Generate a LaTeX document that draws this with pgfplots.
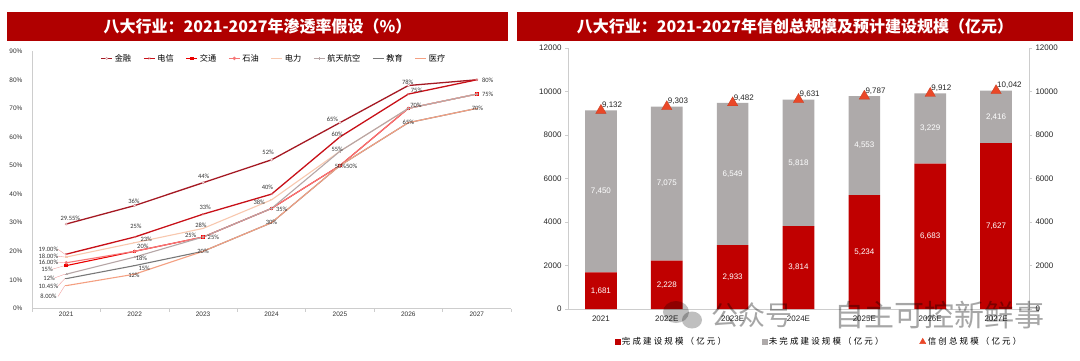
\documentclass[border=0pt]{standalone}
\usepackage{fontspec}
\usepackage{pgfplots}
\pgfplotsset{compat=1.18}
\setmainfont{Liberation Sans}
\newfontfamily\cjk{Noto Sans CJK SC}
\newfontfamily\cjkw[LetterSpace=25]{Noto Sans CJK SC}
\newfontfamily\carl{Carlito}
\definecolor{titlered}{RGB}{176,0,0}
\definecolor{jinrong}{RGB}{165,25,35}
\definecolor{dianxin}{RGB}{200,16,24}
\definecolor{jiaotong}{RGB}{235,0,0}
\definecolor{shiyou}{RGB}{246,118,118}
\definecolor{dianli}{RGB}{248,200,175}
\definecolor{hangtian}{RGB}{182,166,166}
\definecolor{jiaoyu}{RGB}{120,120,120}
\definecolor{yiliao}{RGB}{244,160,130}
\definecolor{barred}{RGB}{192,0,0}
\definecolor{bargray}{RGB}{174,170,170}
\definecolor{tri}{RGB}{234,72,40}
\definecolor{axgray}{RGB}{205,205,205}
\definecolor{lead}{RGB}{242,160,160}
\pgfplotsset{/pgf/number format/assume math mode=true}
\begin{document}
\begin{tikzpicture}
\useasboundingbox (0pt,0pt) rectangle (1080pt,360pt);
\fill[white] (0pt,0pt) rectangle (1080pt,360pt);
% title bars
\fill[titlered] (7pt,319.3pt) rectangle (508pt,348.3pt);
\node[text=white, font=\cjk\bfseries\fontsize{16}{18}\selectfont] at (257.5pt,333.8pt) {八大行业：2021-2027年渗透率假设（\%）};
\fill[titlered] (517pt,319.3pt) rectangle (1073pt,348.3pt);
\node[text=white, font=\cjk\bfseries\fontsize{16}{18}\selectfont] at (795pt,333.8pt) {八大行业：2021-2027年信创总规模及预计建设规模（亿元）};

% ---------------- left chart ----------------
\begin{axis}[at={(32pt,51.5pt)}, anchor=south west, scale only axis,
  width=479pt, height=257.3pt,
  xmin=-0.5, xmax=6.5, ymin=0, ymax=90,
  axis lines*=left, axis line style={draw=axgray, line width=0.8pt},
  xtick={-0.5,0.5,1.5,2.5,3.5,4.5,5.5,6.5}, xticklabels={},
  major tick length=3pt, tick align=outside,
  x tick style={draw=axgray, line width=0.6pt},
  extra x ticks={0,1,2,3,4,5,6},
  extra x tick labels={2021,2022,2023,2024,2025,2026,2027},
  extra x tick style={major tick length=0pt},
  ytick={0,10,...,90},
  yticklabels={0\%,10\%,20\%,30\%,40\%,50\%,60\%,70\%,80\%,90\%},
  y tick style={draw=none},
  yticklabel style={xshift=-3pt},
  tick label style={font=\fontsize{6.5}{7}\selectfont, text=black!80},
  clip=false,
  legend style={at={(0.505,0.972)}, anchor=center, draw=none, fill=none,
    legend columns=8, font=\cjk\fontsize{8.2}{9}\selectfont,
    /tikz/every even column/.append style={column sep=10pt},
    inner sep=0pt},
  legend image code/.code={\draw[mark repeat=2,mark phase=2,#1] plot coordinates {(0pt,0pt) (5.5pt,0pt) (11pt,0pt)};},
]
\addplot[jinrong, line width=1.3pt, mark=*, mark size=1.2pt, mark options={fill=white, draw=jinrong!50, line width=0.4pt}]
 coordinates {(0,29.55)(1,36)(2,44)(3,52)(4,65)(5,78)(6,80)};
\addplot[dianxin, line width=1.3pt, mark=x, mark size=1.3pt, mark options={line width=0.5pt, draw=dianxin!60}]
 coordinates {(0,19)(1,25)(2,33)(3,40)(4,60)(5,75)(6,80)};
\addplot[jiaotong, line width=1.1pt, mark=square*, mark size=1.2pt, mark options={fill=jiaotong}]
 coordinates {(0,15)(1,20)(2,25)(3,35)(4,50)(5,70)(6,75)};
\addplot[shiyou, line width=1.1pt, mark=*, mark size=1.1pt, mark options={fill=white, draw=shiyou}]
 coordinates {(0,16)(1,20)(2,25)(3,35)(4,50)(5,70)(6,75)};
\addplot[dianli, line width=1.1pt, mark=-, mark size=1.3pt]
 coordinates {(0,18)(1,23)(2,28)(3,38)(4,55)(5,70)(6,75)};
\addplot[hangtian, line width=1.1pt, mark=+, mark size=1.3pt, mark options={line width=0.5pt}]
 coordinates {(0,12)(1,18)(2,25)(3,35)(4,55)(5,70)(6,75)};
\addplot[jiaoyu, line width=1.1pt, mark=-, mark size=1.3pt]
 coordinates {(0,10.45)(1,15)(2,20)(3,30)(4,50)(5,65)(6,70)};
\addplot[yiliao, line width=1.1pt, mark=-, mark size=1.3pt]
 coordinates {(0,8)(1,12)(2,20)(3,30)(4,50)(5,65)(6,70)};
\legend{金融,电信,交通,石油,电力,航天航空,教育,医疗}
% leader lines at 2021
\addplot[lead, line width=0.4pt, forget plot] coordinates {(-0.12,20.7)(-0.02,19)};
\addplot[lead, line width=0.4pt, forget plot] coordinates {(-0.12,18.3)(-0.02,18)};
\addplot[lead, line width=0.4pt, forget plot] coordinates {(-0.12,16.1)(-0.02,16)};
\addplot[lead, line width=0.4pt, forget plot] coordinates {(-0.21,13.7)(-0.02,15)};
\addplot[lead, line width=0.4pt, forget plot] coordinates {(-0.17,10.7)(-0.02,12)};
\addplot[lead, line width=0.4pt, forget plot] coordinates {(-0.12,7.9)(-0.02,10.45)};
\addplot[lead, line width=0.4pt, forget plot] coordinates {(-0.12,4.2)(-0.02,8)};
% data labels
\addplot[only marks, mark=none, forget plot, nodes near coords, point meta=explicit symbolic,
  nodes near coords style={anchor=center, inner sep=0pt, font=\carl\fontsize{6.5}{7}\selectfont, text=black!80}]
 table[meta=l] {
x y l
0.06 31.6 29.55\%
-0.26 20.7 19.00\%
-0.26 18.3 18.00\%
-0.26 16.1 16.00\%
-0.28 13.7 15\%
-0.25 10.7 12\%
-0.26 7.9 10.45\%
-0.26 4.2 8.00\%
0.99 37.6 36\%
1.02 28.7 25\%
1.17 24.2 23\%
1.12 21.7 20\%
1.10 17.5 18\%
1.14 14.0 15\%
0.99 11.6 12\%
2.01 46.4 44\%
2.03 35.3 33\%
1.97 29.1 28\%
1.82 25.6 25\%
2.15 24.8 25\%
2.00 19.9 20\%
2.95 54.5 52\%
2.94 42.5 40\%
2.82 37.0 38\%
3.15 34.7 35\%
3.00 30.1 30\%
3.89 66.2 65\%
3.96 60.9 60\%
3.96 55.7 55\%
4.09 49.9 50\%50\%
4.99 79.2 78\%
5.12 76.3 75\%
5.11 71.1 70\%
5.00 65.0 65\%
6.16 79.9 80\%
6.16 74.9 75\%
6.01 69.9 70\%
};
\end{axis}

% ---------------- right chart ----------------
\begin{axis}[at={(568pt,51pt)}, anchor=south west, scale only axis,
  width=461pt, height=261pt,
  xmin=-0.5, xmax=6.5, ymin=0, ymax=12000,
  ybar stacked, bar width=31.7pt,
  axis x line*=bottom, axis y line*=left,
  axis line style={draw=axgray, line width=0.8pt},
  xtick={0,1,2,3,4,5,6},
  xticklabels={2021,2022E,2023E,2024E,2025E,2026E,2027E},
  x tick style={draw=none},
  ytick={0,2000,...,12000}, scaled y ticks=false,
  /pgf/number format/1000 sep={},
  y tick style={draw=axgray, line width=0.6pt}, major tick length=3pt, tick align=outside,
  tick label style={font=\fontsize{8}{9}\selectfont, text=black!85},
]
\addplot[fill=barred, draw=none] coordinates {(0,1681)(1,2228)(2,2933)(3,3814)(4,5234)(5,6683)(6,7627)};
\addplot[fill=bargray, draw=none] coordinates {(0,7450)(1,7075)(2,6549)(3,5818)(4,4553)(5,3229)(6,2416)};
\end{axis}
\begin{axis}[at={(568pt,51pt)}, anchor=south west, scale only axis,
  width=461pt, height=261pt,
  xmin=-0.5, xmax=6.5, ymin=0, ymax=12000,
  axis x line=none, axis y line*=right,
  axis line style={draw=axgray, line width=0.8pt},
  ytick={0,2000,...,12000}, scaled y ticks=false,
  /pgf/number format/1000 sep={},
  y tick style={draw=axgray, line width=0.6pt}, major tick length=3pt, tick align=outside,
  tick label style={font=\fontsize{8}{9}\selectfont, text=black!85},
  clip=false,
  legend style={at={(0.545,-0.126)}, anchor=center, draw=none, fill=none,
    legend columns=3, font=\cjkw\fontsize{8.5}{10}\selectfont,
    /tikz/every even column/.append style={column sep=34pt}},
  legend image code/.code={\draw[#1] plot coordinates {(3pt,0pt)};},
]
\addlegendimage{only marks, mark=square*, mark size=2.4pt, color=barred}
\addlegendimage{only marks, mark=square*, mark size=2.4pt, color=bargray}
\addlegendimage{only marks, mark=triangle*, mark size=3.6pt, color=tri}
\addplot[only marks, forget plot, mark=triangle*, mark size=6pt,
  mark options={fill=tri, draw=tri!85!black, line width=0.3pt},
  point meta=y,
  nodes near coords={\pgfmathprintnumber[fixed, precision=0, 1000 sep={,}]{\pgfplotspointmeta}},
  nodes near coords style={anchor=west, xshift=1pt, yshift=5pt, inner sep=0pt, font=\fontsize{8}{9}\selectfont, text=black!85}]
 coordinates {(0,9132)(1,9303)(2,9482)(3,9631)(4,9787)(5,9912)(6,10042)};
\addplot[only marks, mark=none, forget plot, point meta=explicit,
  nodes near coords={\pgfmathprintnumber[fixed, precision=0, 1000 sep={,}]{\pgfplotspointmeta}},
  nodes near coords style={anchor=center, inner sep=0pt, text=white, font=\fontsize{8}{9}\selectfont}]
 table[meta=v] {
x y v
0 840.5 1681
1 1114 2228
2 1466.5 2933
3 1907 3814
4 2617 5234
5 3341.5 6683
6 3813.5 7627
0 5406 7450
1 5765.5 7075
2 6207.5 6549
3 6723 5818
4 7510.5 4553
5 8297.5 3229
6 8835 2416
};
\legend{完成建设规模（亿元）,未完成建设规模（亿元）,信创总规模（亿元）}
\end{axis}

% watermark
\fill[black, opacity=0.25] (676pt,48pt) ellipse (13pt and 11pt);
\fill[black, opacity=0.25] (692pt,40pt) ellipse (10pt and 8.5pt);
\node[text=black, opacity=0.35, font=\cjk\fontsize{27}{30}\selectfont] at (751.5pt,45pt) {公众号};
\node[text=black, opacity=0.35, font=\cjk\fontsize{30}{33}\selectfont] at (939pt,45pt) {自主可控新鲜事};
\end{tikzpicture}
\end{document}
